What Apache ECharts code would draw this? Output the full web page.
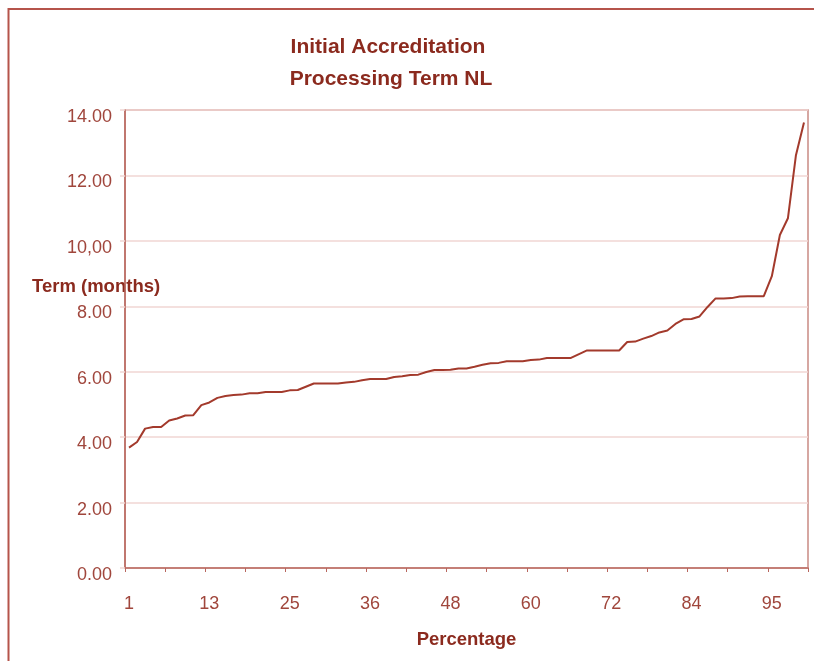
<!DOCTYPE html>
<html>
<head>
<meta charset="utf-8">
<script src="https://cdn.jsdelivr.net/npm/echarts@6.0.0/dist/echarts.min.js"></script>
<style>
  html, body { margin: 0; padding: 0; background: #ffffff; }
  #chart { width: 814px; height: 661px; }
</style>
</head>
<body>
<div id="chart"></div>
<script>
// ---- data ----
const titleLines = ['Initial Accreditation', 'Processing Term NL'];
const yAxisTitle = 'Term (months)';
const xAxisTitle = 'Percentage';

// 85 ranked observations (category positions)
const categories = Array.from({ length: 85 }, (_, i) => String(i + 1));

// labels shown every 10th category
const xTickLabels = ['1', '13', '25', '36', '48', '60', '72', '84', '95'];

const yTickLabels = ['0.00', '2.00', '4.00', '6.00', '8.00', '10,00', '12.00', '14.00'];

const termMonths = [
  3.68, 3.85, 4.26, 4.31, 4.31, 4.51, 4.57, 4.66, 4.67, 4.98,
  5.06, 5.20, 5.26, 5.29, 5.30, 5.34, 5.34, 5.38, 5.38, 5.38,
  5.43, 5.44, 5.54, 5.64, 5.64, 5.64, 5.64, 5.67, 5.69, 5.74,
  5.78, 5.78, 5.78, 5.84, 5.86, 5.90, 5.91, 5.99, 6.05, 6.05,
  6.06, 6.10, 6.10, 6.15, 6.21, 6.26, 6.27, 6.32, 6.32, 6.32,
  6.36, 6.37, 6.42, 6.42, 6.42, 6.42, 6.54, 6.65, 6.65, 6.65,
  6.65, 6.65, 6.91, 6.92, 7.01, 7.09, 7.20, 7.26, 7.46, 7.60,
  7.61, 7.69, 7.98, 8.24, 8.24, 8.25, 8.30, 8.31, 8.31, 8.31,
  8.92, 10.18, 10.69, 12.62, 13.62
];

// ---- styles ----
const FONT = '"Liberation Sans", Arial, sans-serif';
const darkRed = '#8B2A1E';
const labelRed = '#A0463C';
const lineRed = '#A33A2C';
const axisCol = '#B8675E';
const gridCol = '#F0D6D3';
const frameCol = '#B5544B';

const chart = echarts.init(document.getElementById('chart'), null, { renderer: 'canvas' });

chart.setOption({
  animation: false,
  backgroundColor: '#ffffff',
  grid: {
    left: 125, right: 6, top: 110, bottom: 93,
    show: true, borderColor: '#C98A84', borderWidth: 1.5,
    containLabel: false
  },
  graphic: [
    {
      type: 'polyline',
      shape: { points: [[8.5, 661], [8.5, 9], [814, 9]] },
      style: { stroke: frameCol, lineWidth: 2, fill: null }
    },
    {
      type: 'text', x: 388, y: 47,
      style: { text: titleLines[0], align: 'center', verticalAlign: 'middle',
               font: 'bold 21px ' + FONT, fill: darkRed }
    },
    {
      type: 'text', x: 391, y: 79,
      style: { text: titleLines[1], align: 'center', verticalAlign: 'middle',
               font: 'bold 21px ' + FONT, fill: darkRed }
    },
    {
      type: 'text', x: 32, y: 287,
      style: { text: yAxisTitle, align: 'left', verticalAlign: 'middle',
               font: 'bold 18.5px ' + FONT, fill: darkRed }
    }
  ],
  xAxis: {
    type: 'category',
    data: categories,
    boundaryGap: true,
    name: xAxisTitle,
    nameLocation: 'middle',
    nameGap: 62,
    nameTextStyle: { fontFamily: FONT, fontWeight: 'bold', fontSize: 18.5, color: darkRed },
    axisLine: { show: true, lineStyle: { color: axisCol, width: 1.5 } },
    axisTick: { show: true, interval: 4, length: 4, lineStyle: { color: axisCol, width: 1 } },
    axisLabel: {
      interval: 9,
      margin: 27,
      fontFamily: FONT, fontSize: 18, color: labelRed,
      formatter: (v, idx) => xTickLabels[Math.round(idx / 10)]
    },
    splitLine: { show: false }
  },
  yAxis: {
    type: 'value',
    min: 0, max: 14, interval: 2,
    axisLine: { show: true, lineStyle: { color: axisCol, width: 1.5 } },
    axisTick: { show: true, length: 5, lineStyle: { color: gridCol, width: 1.5 } },
    axisLabel: {
      margin: 13,
      verticalAlign: 'top',
      lineHeight: 14,
      fontFamily: FONT, fontSize: 18, color: labelRed,
      formatter: (v) => yTickLabels[Math.round(v / 2)]
    },
    splitLine: { show: true, lineStyle: { color: gridCol, width: 1.5 } }
  },
  series: [{
    type: 'line',
    data: termMonths,
    showSymbol: false,
    symbol: 'none',
    lineStyle: { color: lineRed, width: 2 },
    z: 5
  }]
});
</script>
</body>
</html>
